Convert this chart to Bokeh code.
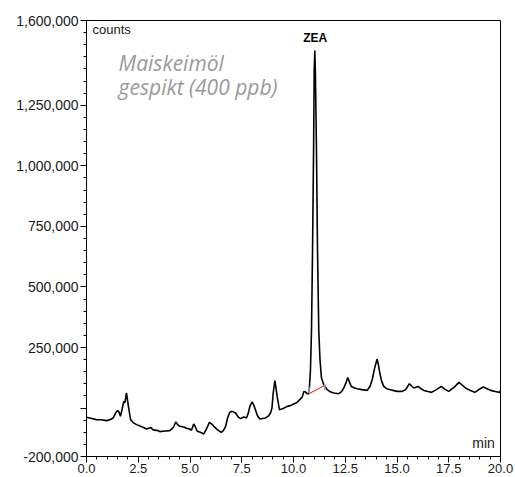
from bokeh.plotting import figure
from bokeh.models import Range1d, FixedTicker, NumeralTickFormatter, Label
from bokeh.embed import file_html
from bokeh.resources import INLINE

# chromatogram trace (minutes, counts)
t_min = [0.00, 0.20, 0.48, 0.70, 0.97, 1.15, 1.29, 1.40, 1.50, 1.58, 1.64, 1.72, 1.80, 1.86,
         1.93, 2.02, 2.13, 2.25, 2.42, 2.65, 2.90, 3.10, 3.22, 3.40, 3.54, 3.80, 4.02, 4.20,
         4.31, 4.40, 4.51, 4.70, 4.83, 5.00, 5.07, 5.18, 5.26, 5.35, 5.50, 5.67, 5.80,
         5.94, 6.05, 6.15, 6.32, 6.51, 6.62, 6.72, 6.82, 6.92, 7.04, 7.20, 7.32, 7.44,
         7.60, 7.73, 7.82, 7.89, 8.00, 8.08, 8.16, 8.25, 8.37, 8.50, 8.65, 8.80, 8.89,
         8.96, 9.02, 9.10, 9.15, 9.21, 9.32, 9.50, 9.70, 9.85, 10.01, 10.15, 10.30, 10.42,
         10.50, 10.58, 10.66, 10.75, 10.82, 10.87, 10.92, 10.97, 11.00, 11.03, 11.06,
         11.11, 11.16, 11.22, 11.28, 11.35, 11.46, 11.63, 11.80, 11.95, 12.19, 12.32,
         12.43, 12.54, 12.62, 12.70, 12.79, 12.95, 13.08, 13.30, 13.56, 13.70, 13.80,
         13.92, 14.04, 14.10, 14.17, 14.26, 14.36, 14.50, 14.69, 14.85, 15.01, 15.25,
         15.41, 15.60, 15.70, 15.81, 16.02, 16.15, 16.30, 16.50, 16.67, 16.90, 17.14,
         17.30, 17.50, 17.75, 17.99, 18.15, 18.31, 18.55, 18.76, 18.95, 19.16, 19.35,
         19.52, 19.75, 19.95, 20.00]
counts = [-38300, -42000, -47800, -48500, -51900, -47000, -40800, -22000, -9500, -18000,
          -34200, -5000, 27600, 22000, 62200, 10000, -47800, -60000, -68400, -76000,
          -86100, -80000, -90200, -92000, -97200, -95000, -93100, -80000, -57300, -68000,
          -75400, -78000, -83600, -87000, -91900, -65500, -78000, -96000, -100000, -106700,
          -85000, -58900, -66000, -75400, -89000, -100100, -92000, -75400, -40000, -17700,
          -13600, -20200, -36000, -43700, -36700, -40800, -20000, 7000, 25100, 12000,
          -6600, -30000, -44900, -43000, -40800, -32000, -20200, 0, 62200, 112900, 85000,
          48200, -6600, -2000, 7000, 10000, 16900, 22000, 34600, 45000, 68800, 66000, 59300,
          59300, 158200, 322900, 652400, 1064300, 1393800, 1476200, 1373200, 1064300,
          652400, 322900, 199400, 125200, 96400, 75800, 66000, 62200, 59300, 68000, 82800,
          105000, 126500, 108000, 89400, 83000, 79900, 76000, 72900, 90000, 117000, 165000,
          202200, 180000, 144600, 110000, 89400, 80000, 75800, 72000, 68800, 68800, 75800,
          100500, 92000, 82800, 89400, 80000, 72900, 68000, 64700, 76000, 89400, 78000,
          68800, 85000, 105900, 95000, 82800, 72000, 64700, 76000, 86900, 80000, 72900,
          68000, 64700, 71700]

# integration baseline of the ZEA peak
base_t = [10.75, 11.51]
base_counts = [59300, 94300]
mark_lo = [62000, 73000]
mark_hi = [89000, 100000]

y_major = [-200000, 0, 250000, 500000, 750000, 1000000, 1250000, 1600000]
x_major = [0, 2.5, 5, 7.5, 10, 12.5, 15, 17.5, 20]

p = figure(width=515, height=477, output_backend="svg", toolbar_location=None,
           x_range=Range1d(0, 20), y_range=Range1d(-200000, 1600000),
           min_border_left=86, min_border_right=15, min_border_top=20, min_border_bottom=21)
p.grid.visible = False
p.outline_line_color = "black"
p.outline_line_width = 1
p.background_fill_color = "white"
p.border_fill_color = "white"

p.line(t_min, counts, line_color="black", line_width=1.6)
p.line(base_t, base_counts, line_color="#e8412c", line_width=1.2)
p.segment(x0=base_t, y0=mark_lo, x1=base_t, y1=mark_hi, line_color="#8aa4d6", line_width=1.5)

ya = p.yaxis[0]
ya.ticker = FixedTicker(ticks=y_major, minor_ticks=list(range(-200000, 1600001, 50000)))
ya.formatter = NumeralTickFormatter(format="0,0")
ya.major_label_overrides = {0: ""}
xa = p.xaxis[0]
xa.ticker = FixedTicker(ticks=x_major, minor_ticks=[i * 0.5 for i in range(41)])
xa.formatter = NumeralTickFormatter(format="0.0")
for ax in (xa, ya):
    ax.axis_line_color = "black"
    ax.major_tick_line_color = "black"
    ax.minor_tick_line_color = "black"
    ax.major_tick_in = 0
    ax.minor_tick_in = 0
    ax.major_tick_out = 6
    ax.minor_tick_out = 3
    ax.major_label_text_font = "Liberation Sans"
    ax.major_label_text_color = "#1a1a1a"
ya.major_label_text_font_size = "14px"
ya.major_label_standoff = 2
xa.major_label_text_font_size = "13px"
xa.major_label_standoff = 1

p.add_layout(Label(x=0.29, y=1531000, text="counts", text_font="Liberation Sans",
                   text_font_size="13px", text_color="#1a1a1a"))
p.add_layout(Label(x=19.73, y=-175500, text="min", text_font="Liberation Sans",
                   text_font_size="14px", text_color="#1a1a1a", text_align="right"))
p.add_layout(Label(x=11.05, y=1496800, text="ZEA", text_font="Liberation Sans",
                   text_font_size="12px", text_font_style="bold", text_color="black",
                   text_align="center"))
p.add_layout(Label(x=1.55, y=1366300, text="Maiskeimöl", text_font="Open Sans",
                   text_font_size="21px", text_font_style="italic", text_color="#9a9a9a"))
p.add_layout(Label(x=1.55, y=1266200, text="gespikt (400 ppb)", text_font="Open Sans",
                   text_font_size="21px", text_font_style="italic", text_color="#9a9a9a"))

open("out.html", "w").write(file_html(p, INLINE))
